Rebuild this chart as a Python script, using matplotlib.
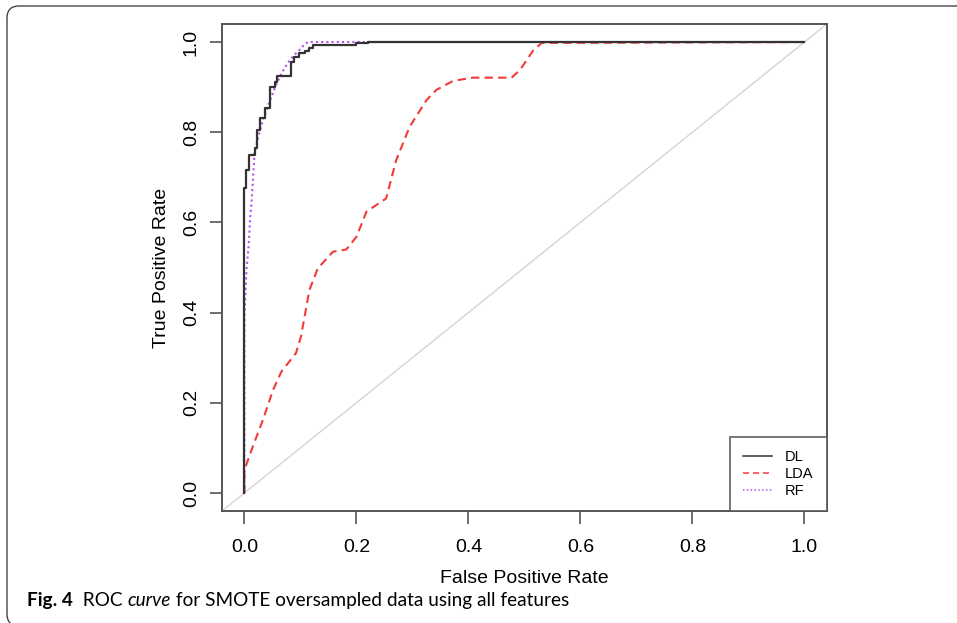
import matplotlib
matplotlib.use("Agg")
import matplotlib.pyplot as plt
from matplotlib.patches import FancyBboxPatch
from matplotlib.transforms import IdentityTransform

plt.rcParams['font.family'] = ['Liberation Sans', 'DejaVu Sans']

# ROC curves (false positive rate, true positive rate)
dl_fpr = [0, 0, 0.003, 0.009, 0.018, 0.023, 0.028, 0.036, 0.045, 0.054, 0.059,
          0.083, 0.089, 0.098, 0.109, 0.116, 0.123, 0.200, 0.220, 1.0]
dl_tpr = [0, 0.676, 0.716, 0.749, 0.765, 0.805, 0.831, 0.854, 0.900, 0.912, 0.924,
          0.956, 0.967, 0.975, 0.979, 0.986, 0.993, 0.997, 1.0, 1.0]

lda_fpr = [0, 0, 0.002, 0.015, 0.033, 0.051, 0.066, 0.092, 0.101, 0.116, 0.131,
           0.158, 0.182, 0.200, 0.218, 0.253, 0.271, 0.295, 0.325, 0.343, 0.373,
           0.408, 0.477, 0.492, 0.516, 0.531, 1.0]
lda_tpr = [0, 0.05, 0.058, 0.103, 0.162, 0.228, 0.269, 0.310, 0.347, 0.450, 0.498,
           0.535, 0.540, 0.568, 0.624, 0.653, 0.738, 0.812, 0.871, 0.894, 0.914,
           0.921, 0.921, 0.938, 0.982, 0.998, 1.0]

rf_fpr = [0, 0, 0.002, 0.004, 0.007, 0.009, 0.010, 0.013, 0.016, 0.018, 0.025,
          0.033, 0.044, 0.055, 0.066, 0.077, 0.088, 0.098, 0.106, 0.113, 1.0]
rf_tpr = [0, 0.395, 0.45, 0.50, 0.54, 0.58, 0.605, 0.65, 0.71, 0.754, 0.79,
          0.827, 0.865, 0.900, 0.930, 0.953, 0.970, 0.982, 0.993, 1.0, 1.0]

labels = ['DL', 'LDA', 'RF']
colors = ['#333333', '#f23a3a', '#b050f0']

fig = plt.figure(figsize=(9.57, 6.23), dpi=100)
ax = fig.add_axes([0.232, 0.1798, 0.632, 0.7817])

ax.axline((0, 0), (1, 1), color='#d4d4d4', lw=1.0, zorder=1)
ax.step(dl_fpr, dl_tpr, where='post', color=colors[0], lw=1.6, label=labels[0], zorder=3)
ax.plot(lda_fpr, lda_tpr, color=colors[1], lw=1.5, dashes=(4, 2.5), label=labels[1], zorder=2)
ax.plot(rf_fpr, rf_tpr, color=colors[2], lw=1.5, dashes=(1, 1.5), label=labels[2], zorder=2)

ax.set_xlim(-0.04, 1.04)
ax.set_ylim(-0.04, 1.04)
ticks = [0.0, 0.2, 0.4, 0.6, 0.8, 1.0]
ax.set_xticks(ticks)
ax.set_yticks(ticks)
ax.set_xticklabels([f'{t:.1f}' for t in ticks], fontsize=14)
ax.set_yticklabels([f'{t:.1f}' for t in ticks], fontsize=14, rotation=90, va='center')
ax.tick_params(direction='out', length=9, width=1.2, color='#555555', pad=11)
ax.tick_params(axis='y', pad=7)
for sp in ax.spines.values():
    sp.set_color('#555555')
    sp.set_linewidth(1.4)

ax.set_xlabel('False Positive Rate', fontsize=14, labelpad=10)
ax.set_ylabel('True Positive Rate', fontsize=14, labelpad=9)

leg = ax.legend(loc='lower right', borderaxespad=0, fontsize=10.5, handlelength=2.0,
                handletextpad=0.9, labelspacing=0.2, borderpad=0.9, fancybox=False)
leg.get_frame().set_edgecolor('#555555')
leg.get_frame().set_linewidth(1.4)
for line in leg.get_lines():
    line.set_linewidth(1.1)

# rounded frame around the whole figure
frame = FancyBboxPatch((7, -3), 980, 620, boxstyle='round,pad=0,rounding_size=12',
                       transform=IdentityTransform(), fill=False, ec='#333333', lw=0.9)
fig.patches.append(frame)

# caption: bold label, then regular text with one italic word
fig.canvas.draw()
renderer = fig.canvas.get_renderer()
x0 = 27 / 957
y0 = 1 - 606 / 623
parts = [('Fig. 4', 'bold', 'normal'), ('  ROC ', 'normal', 'normal'),
         ('curve', 'normal', 'italic'),
         (' for SMOTE oversampled data using all features', 'normal', 'normal')]
cap_font = ['Lato', 'DejaVu Sans']
for txt, weight, style in parts:
    t = fig.text(x0, y0, txt, fontsize=13.7, fontweight=weight, fontstyle=style,
                 family=cap_font, ha='left', va='baseline')
    bb = t.get_window_extent(renderer)
    x0 += bb.width / fig.bbox.width

fig.savefig('out.png', dpi=100)
